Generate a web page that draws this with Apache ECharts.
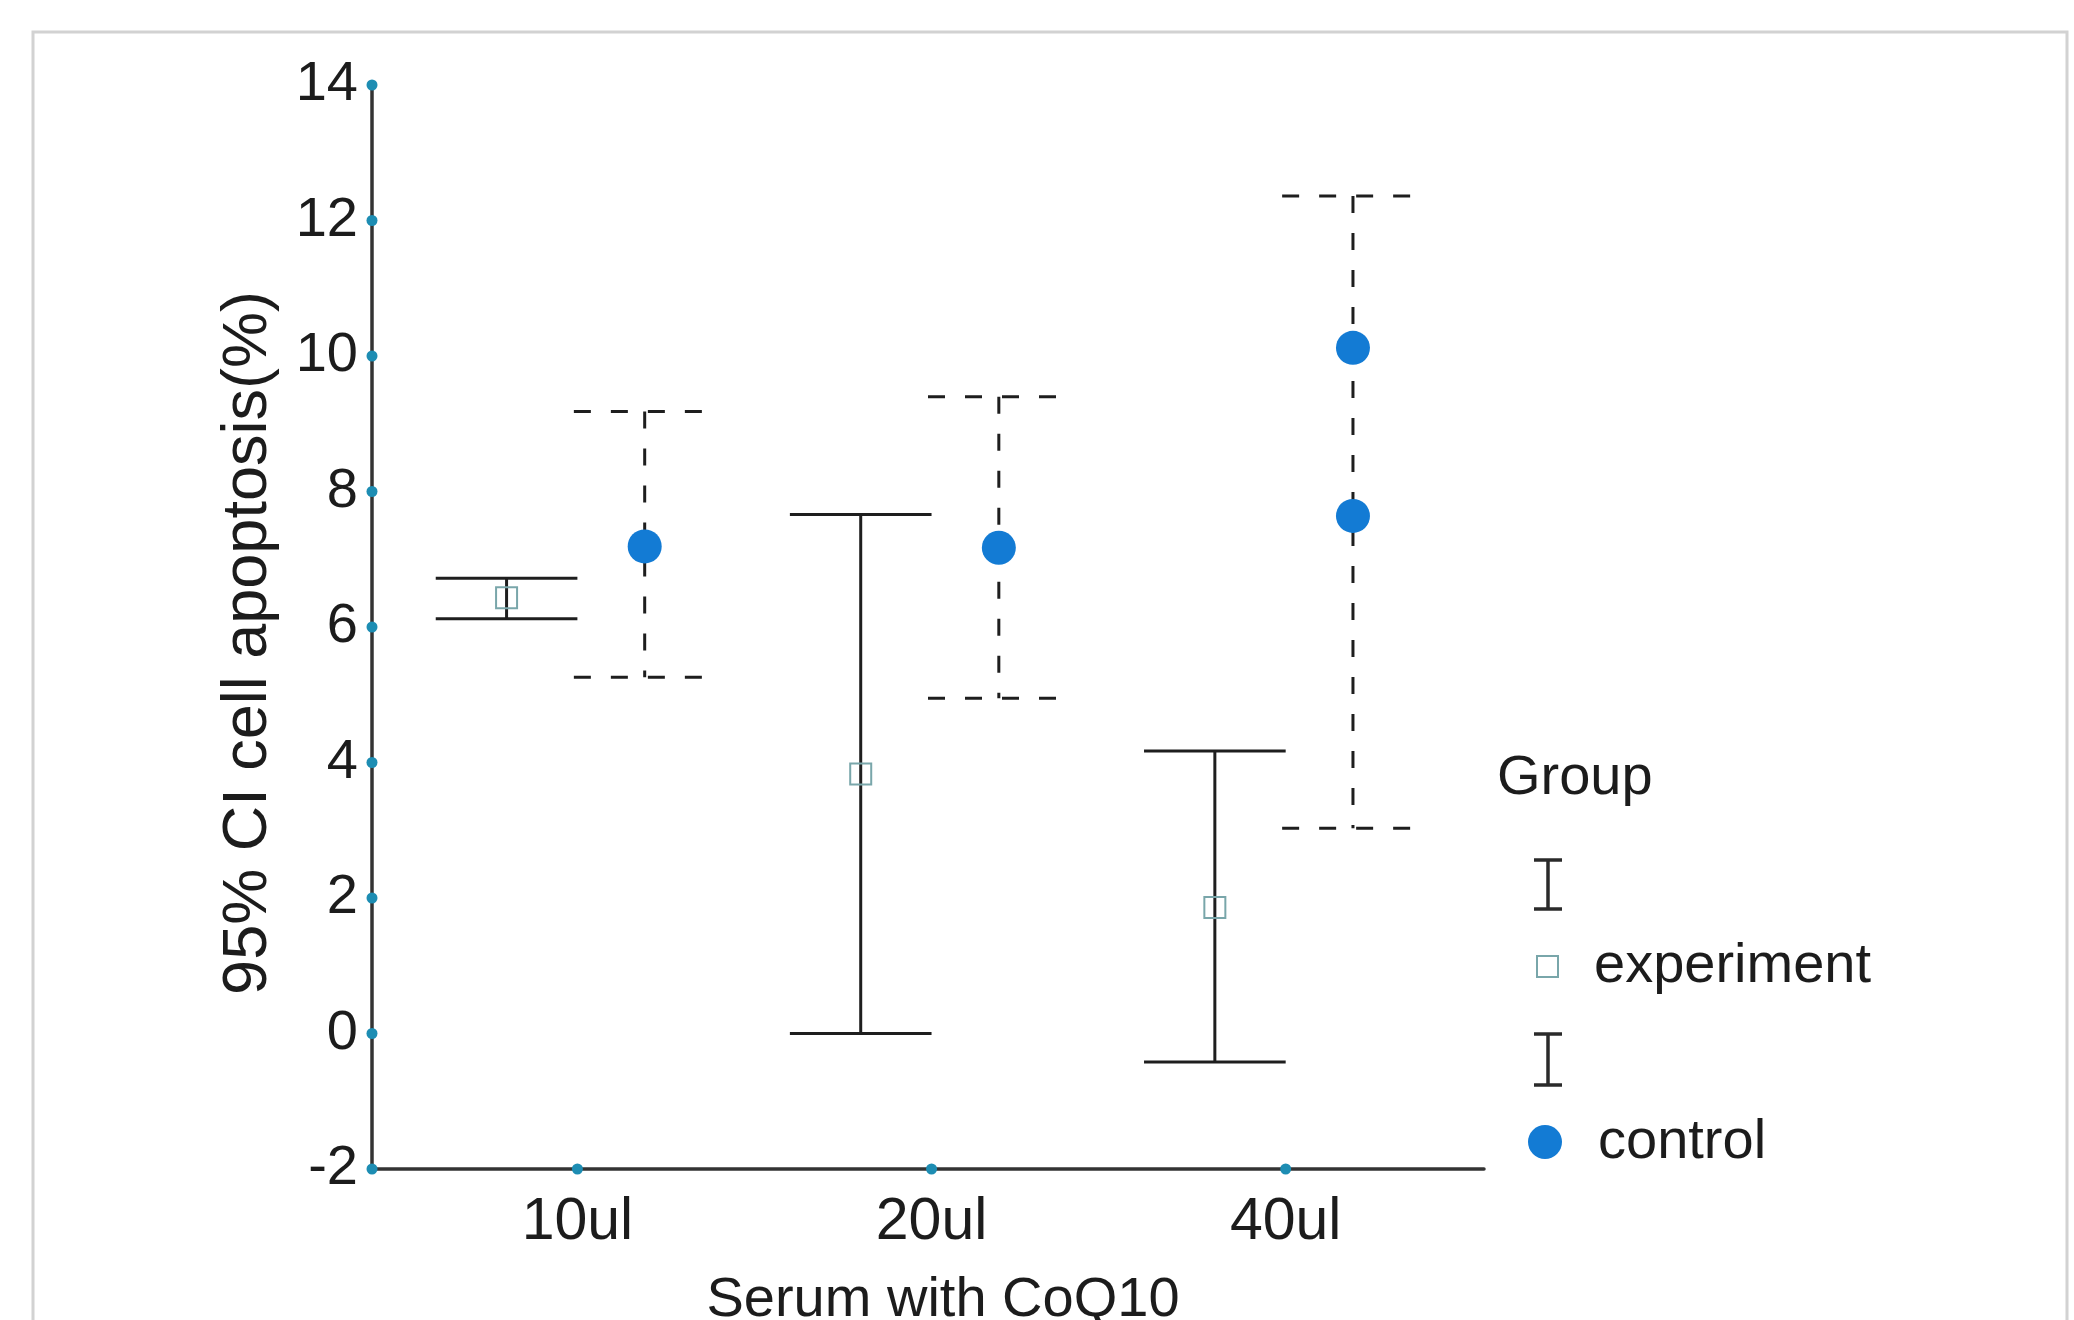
<!DOCTYPE html>
<html>
<head>
<meta charset="utf-8">
<script src="https://cdn.jsdelivr.net/npm/echarts@6/dist/echarts.min.js"></script>
<style>
  html, body { margin: 0; padding: 0; background: #ffffff; }
  #chart { width: 2074px; height: 1320px; }
</style>
</head>
<body>
<div id="chart"></div>
<script>
// Serum dose groups on the x axis
const categories = ['10ul', '20ul', '40ul'];
// Legend / series names
const groups = ['experiment', 'control'];
// Y axis tick values
const yTicks = [-2, 0, 2, 4, 6, 8, 10, 12, 14];

// experiment: mean and 95% CI bounds per dose
const expMean  = [6.43, 3.83, 1.86];
const expLower = [6.12, 0.00, -0.42];
const expUpper = [6.72, 7.66, 4.17];

// control: mean and 95% CI bounds per dose (40ul shows a second point)
const ctrlMean  = [7.19, 7.17, 7.64];
const ctrlExtra = [null, null, 10.12];
const ctrlLower = [5.26, 4.95, 3.03];
const ctrlUpper = [9.18, 9.40, 12.36];

const FONT = '"Liberation Sans", Arial, Helvetica, sans-serif';
const TEXT_COLOR = '#1c1c1c';
const X_MIN = 0.42, X_MAX = 3.56;
const EXP_OFFSET = -0.20, CTRL_OFFSET = 0.19, CAP = 0.20;
const EXP_COLOR = '#79a6aa';
const CTRL_COLOR = '#137bd4';
const TICK_DOT = '#1d8db3';
const LINE_COLOR = '#1e1e1e';

const catX = categories.map((c, i) => i + 1);

function errorBar(dashed) {
  return function (params, api) {
    const x = api.value(0);
    const lo = api.value(1);
    const hi = api.value(2);
    const top = api.coord([x, hi]);
    const bot = api.coord([x, lo]);
    const l = api.coord([x - CAP, hi])[0];
    const r = api.coord([x + CAP, hi])[0];
    const style = {
      stroke: LINE_COLOR,
      lineWidth: 3,
      lineDash: dashed ? [17, 20] : null,
      fill: null
    };
    return {
      type: 'group',
      children: [
        { type: 'line', shape: { x1: top[0], y1: top[1], x2: bot[0], y2: bot[1] }, style: style },
        { type: 'line', shape: { x1: l, y1: top[1], x2: r, y2: top[1] }, style: style },
        { type: 'line', shape: { x1: l, y1: bot[1], x2: r, y2: bot[1] }, style: style }
      ]
    };
  };
}

const expBars = catX.map((x, i) => [x + EXP_OFFSET, expLower[i], expUpper[i]]);
const ctrlBars = catX.map((x, i) => [x + CTRL_OFFSET, ctrlLower[i], ctrlUpper[i]]);
const expPoints = catX.map((x, i) => [x + EXP_OFFSET, expMean[i]]);
const ctrlPoints = [];
catX.forEach((x, i) => {
  ctrlPoints.push([x + CTRL_OFFSET, ctrlMean[i]]);
  if (ctrlExtra[i] != null) ctrlPoints.push([x + CTRL_OFFSET, ctrlExtra[i]]);
});
const tickDots = yTicks.map(v => [X_MIN, v]).concat(catX.map(x => [x, yTicks[0]]));

// Legend block drawn to the right of the plot
function iBeam(cx, y1, y2) {
  const st = { stroke: '#2a2a2a', lineWidth: 3.5 };
  return [
    { type: 'line', shape: { x1: cx, y1: y1, x2: cx, y2: y2 }, style: st },
    { type: 'line', shape: { x1: cx - 14, y1: y1, x2: cx + 14, y2: y1 }, style: st },
    { type: 'line', shape: { x1: cx - 14, y1: y2, x2: cx + 14, y2: y2 }, style: st }
  ];
}
const legendFont = '56px ' + FONT;
const legendGraphics = [
  { type: 'text', style: { text: 'Group', x: 1497, y: 779, verticalAlign: 'middle', font: legendFont, fill: TEXT_COLOR } }
].concat(iBeam(1548, 860, 909)).concat([
  { type: 'rect', shape: { x: 1537, y: 956, width: 21, height: 21 }, style: { fill: 'none', stroke: EXP_COLOR, lineWidth: 2 } },
  { type: 'text', style: { text: groups[0], x: 1594, y: 967, verticalAlign: 'middle', font: legendFont, fill: TEXT_COLOR } }
]).concat(iBeam(1548, 1034, 1085)).concat([
  { type: 'circle', shape: { cx: 1545, cy: 1142, r: 17 }, style: { fill: CTRL_COLOR } },
  { type: 'text', style: { text: groups[1], x: 1598, y: 1143, verticalAlign: 'middle', font: legendFont, fill: TEXT_COLOR } }
]);

const chart = echarts.init(document.getElementById('chart'), null, { renderer: 'canvas' });
chart.setOption({
  animation: false,
  backgroundColor: '#ffffff',
  textStyle: { fontFamily: FONT },
  grid: { left: 372, right: 590, top: 85, bottom: 151, containLabel: false, outerBoundsMode: 'none' },
  xAxis: {
    type: 'value',
    min: X_MIN,
    max: X_MAX,
    axisLine: { show: true, onZero: false, lineStyle: { color: '#333333', width: 3.5 } },
    axisTick: { show: false },
    splitLine: { show: false },
    axisLabel: {
      customValues: catX,
      formatter: v => categories[Math.round(v) - 1],
      fontSize: 59,
      color: TEXT_COLOR,
      margin: 24,
      fontFamily: FONT
    },
    name: 'Serum with CoQ10',
    nameLocation: 'middle',
    nameGap: 104,
    nameTextStyle: { fontSize: 56, color: TEXT_COLOR, fontFamily: FONT, padding: [0, 0, 0, 30] }
  },
  yAxis: {
    type: 'value',
    min: -2,
    max: 14,
    interval: 2,
    axisLine: { show: true, onZero: false, lineStyle: { color: '#333333', width: 3.5 } },
    axisTick: { show: false },
    splitLine: { show: false },
    axisLabel: { fontSize: 56, color: TEXT_COLOR, margin: 14, fontFamily: FONT },
    name: '95% CI cell apoptosis(%)',
    nameLocation: 'middle',
    nameRotate: 90,
    nameGap: 92,
    nameTextStyle: { fontSize: 63, color: TEXT_COLOR, fontFamily: FONT, padding: [0, 32, 0, 0] }
  },
  graphic: [
    { type: 'rect', z: -10, shape: { x: 33, y: 32, width: 2034, height: 1400 }, style: { fill: 'none', stroke: '#d2d2d2', lineWidth: 3 } },
    { type: 'group', children: legendGraphics }
  ],
  series: [
    { name: groups[0] + ' CI', type: 'custom', renderItem: errorBar(false), data: expBars, encode: { x: 0, y: [1, 2] }, z: 2, silent: true },
    { name: groups[1] + ' CI', type: 'custom', renderItem: errorBar(true), data: ctrlBars, encode: { x: 0, y: [1, 2] }, z: 2, silent: true },
    {
      name: groups[0], type: 'scatter', data: expPoints, symbol: 'rect', symbolSize: 21, z: 4,
      itemStyle: { color: 'rgba(0,0,0,0)', borderColor: EXP_COLOR, borderWidth: 2, opacity: 1 }
    },
    {
      name: groups[1], type: 'scatter', data: ctrlPoints, symbol: 'circle', symbolSize: 34, z: 4,
      itemStyle: { color: CTRL_COLOR, opacity: 1 }
    },
    {
      name: 'ticks', type: 'scatter', data: tickDots, symbol: 'circle', symbolSize: 11, z: 5, clip: false, silent: true,
      itemStyle: { color: TICK_DOT, opacity: 1 }
    }
  ]
});
</script>
</body>
</html>
